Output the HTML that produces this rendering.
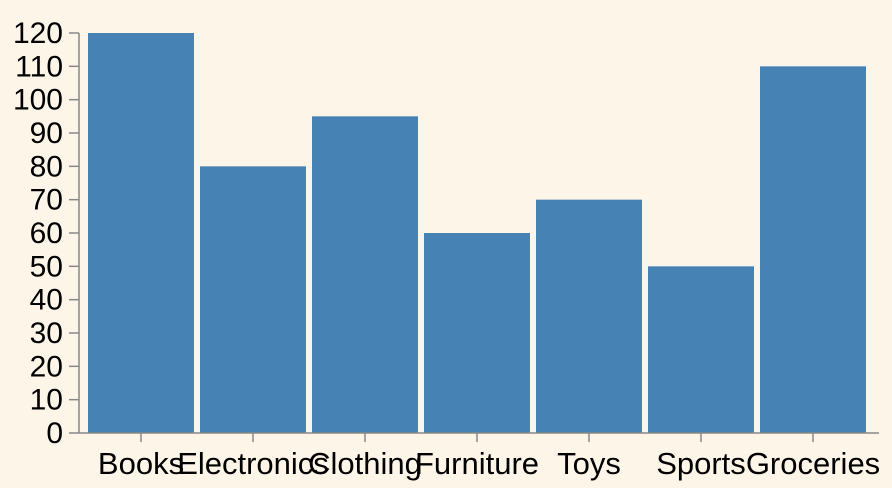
<!DOCTYPE html>
<html><head><meta charset="utf-8"><style>
html,body{margin:0;padding:0;background:#fdf5e8;}
svg{display:block;font-family:"Liberation Sans",sans-serif;}
</style></head><body>
<svg id="chart" width="892" height="488"></svg>
<script>
const categories=["Books","Electronics","Clothing","Furniture","Toys","Sports","Groceries"];
const values=[120,80,95,60,70,50,110];
const yTicks=[0,10,20,30,40,50,60,70,80,90,100,110,120];
const NS="http://www.w3.org/2000/svg";
const svg=document.getElementById('chart');
const y0=433,y1=33,yMax=120;
const y=v=>y0-(y0-y1)*v/yMax;
const step=112,bx0=88,bw=106;
const x=i=>bx0+step*i;
function mk(t,a,p){const e=document.createElementNS(NS,t);for(const k in a)e.setAttribute(k,a[k]);(p||svg).appendChild(e);return e;}
const bars=mk('g',{});


values.forEach((v,i)=>{const r=mk('rect',{x:x(i),y:y(v),width:bw,height:y0-y(v),fill:'#4682b4'},bars);

});
const ya=mk('g',{});


mk('line',{x1:79,y1:y1,x2:79,y2:y0,stroke:'#888','stroke-width':1.5},ya);
yTicks.forEach(t=>{mk('line',{x1:69,x2:79,y1:y(t),y2:y(t),stroke:'#888','stroke-width':1.5},ya);
const tx=mk('text',{x:63,y:y(t)+10,'text-anchor':'end','font-size':'30px',fill:'#000'},ya);tx.textContent=t;

});
const xa=mk('g',{});


mk('line',{x1:79,y1:y0,x2:879,y2:y0,stroke:'#888','stroke-width':1.5},xa);
categories.forEach((c,i)=>{const cx=x(i)+bw/2;
mk('line',{x1:cx,x2:cx,y1:y0,y2:y0+9,stroke:'#888','stroke-width':1.5},xa);
const tx=mk('text',{x:cx,y:474,'text-anchor':'middle','font-size':'31px',fill:'#000'},xa);tx.textContent=c;

});
</script>
</body></html>
